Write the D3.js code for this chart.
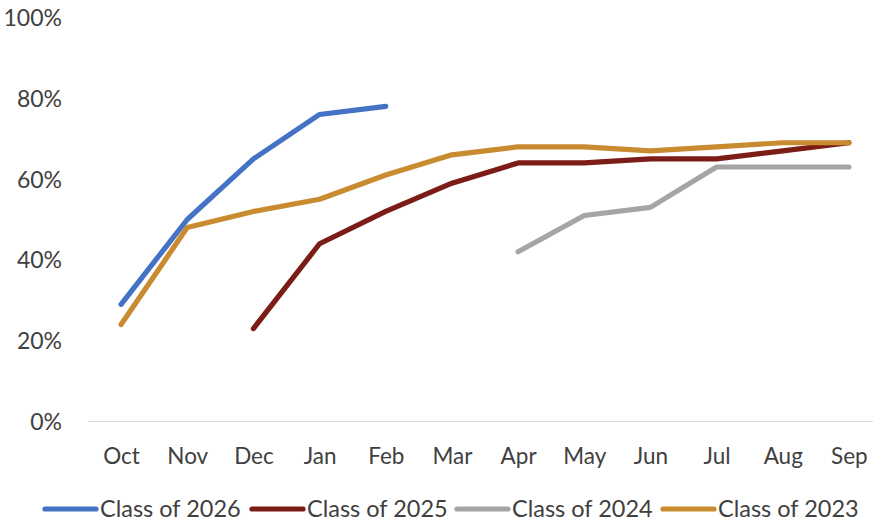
<!DOCTYPE html>
<html>
<head>
<meta charset="utf-8">
<script src="https://cdn.jsdelivr.net/npm/d3@7"></script>
<style>
  html, body { margin: 0; padding: 0; background: #fff; }
  svg text { font-family: Lato, "Open Sans", sans-serif; fill: #404040; }
</style>
</head>
<body>
<svg id="chart" width="873" height="525"></svg>
<script>
const months = ["Oct","Nov","Dec","Jan","Feb","Mar","Apr","May","Jun","Jul","Aug","Sep"];
const yTicks = [0, 20, 40, 60, 80, 100];

// Percent values per month (null = no data yet / not tracked)
const class2026 = [29, 50, 65, 76, 78, null, null, null, null, null, null, null];
const class2025 = [null, null, 23, 44, 52, 59, 64, 64, 65, 65, 67, 69];
const class2024 = [null, null, null, null, null, null, 42, 51, 53, 63, 63, 63];
const class2023 = [24, 48, 52, 55, 61, 66, 68, 68, 67, 68, 69, 69];

const seriesNames = ["Class of 2026", "Class of 2025", "Class of 2024", "Class of 2023"];
const seriesColors = ["#4472C4", "#7B1C16", "#A5A5A5", "#C98B2F"];
const seriesValues = [class2026, class2025, class2024, class2023];

(function draw() {
  const svg = d3.select("#chart");
  const plotLeft = 88, plotRight = 882, plotTop = 17.5, plotBottom = 421.5;

  const x = d3.scalePoint().domain(months).range([plotLeft, plotRight]).padding(0.5);
  const y = d3.scaleLinear().domain([0, 100]).range([plotBottom, plotTop]);

  // Baseline at 0%
  svg.append("line")
    .attr("x1", plotLeft).attr("x2", plotRight)
    .attr("y1", y(0)).attr("y2", y(0))
    .attr("stroke", "#D9D9D9").attr("stroke-width", 1.2);

  // Y axis labels
  const yAxis = d3.axisLeft(y).tickValues(yTicks).tickFormat(d => d + "%").tickSize(0).tickPadding(0);
  const yg = svg.append("g").attr("transform", "translate(62,0)").call(yAxis);
  yg.select(".domain").remove();
  yg.selectAll("text").style("font-size", "23px").attr("dy", "0.35em").attr("fill", "#404040");

  // X axis labels
  const xAxis = d3.axisBottom(x).tickSize(0).tickPadding(0);
  const xg = svg.append("g").attr("transform", "translate(0,456)").call(xAxis);
  xg.select(".domain").remove();
  xg.selectAll("text").style("font-size", "22.5px").attr("dy", "0.35em").attr("fill", "#404040");

  // Series lines
  const line = d3.line()
    .defined(d => d.v !== null)
    .x(d => x(d.m))
    .y(d => y(d.v));

  seriesValues.forEach((vals, i) => {
    const data = vals.map((v, j) => ({ m: months[j], v }));
    svg.append("path")
      .datum(data)
      .attr("d", line)
      .attr("fill", "none")
      .attr("stroke", seriesColors[i])
      .attr("stroke-width", 5.2)
      .attr("stroke-linecap", "round")
      .attr("stroke-linejoin", "round");
  });

  // Legend
  const legendX = [45, 252, 457, 663];
  const legend = svg.append("g").attr("transform", "translate(0,509)");
  seriesNames.forEach((name, i) => {
    const g = legend.append("g").attr("transform", `translate(${legendX[i]},0)`);
    g.append("line")
      .attr("x1", 0).attr("x2", 51).attr("y1", 0).attr("y2", 0)
      .attr("stroke", seriesColors[i]).attr("stroke-width", 5.2)
      .attr("stroke-linecap", "round");
    g.append("text")
      .attr("x", 55).attr("y", 0).attr("dy", "0.35em")
      .style("font-size", "23.5px")
      .text(name);
  });
})();
</script>
</body>
</html>
